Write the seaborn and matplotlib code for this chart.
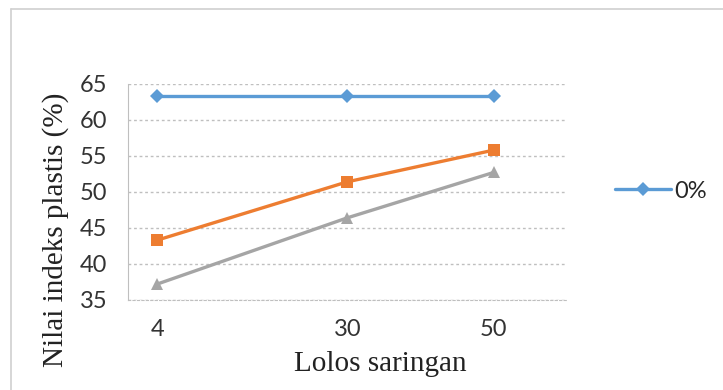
import pandas as pd
import seaborn as sns
import matplotlib.pyplot as plt
from matplotlib.lines import Line2D

# data
lolos = [4, 30, 50]
series_names = ['0%', '2%', '4%']
pi_0 = [63.3, 63.3, 63.3]
pi_2 = [43.3, 51.4, 55.8]
pi_4 = [37.2, 46.4, 52.7]
y_ticks = [35, 40, 45, 50, 55, 60, 65]

colors = {'0%': '#5B9BD5', '2%': '#ED7D31', '4%': '#A5A5A5'}
markers = {'0%': 'D', '2%': 's', '4%': '^'}
msizes = {'0%': 7.5, '2%': 8, '4%': 9}

df = pd.DataFrame({
    'lolos': lolos * 3,
    'pi': pi_0 + pi_2 + pi_4,
    'kadar': [n for n in series_names for _ in lolos],
})

sns.set_style('white')
plt.rcParams['font.family'] = ['Lato', 'DejaVu Sans']

fig = plt.figure(figsize=(7.23, 3.9), dpi=100)
ax = fig.add_axes([0.177, 0.231, 0.607, 0.554])

for name in series_names:
    sub = df[df['kadar'] == name]
    sns.lineplot(data=sub, x='lolos', y='pi', ax=ax, color=colors[name],
                 marker=markers[name], markersize=msizes[name],
                 markeredgewidth=0, linewidth=2.4, label=name, legend=False)

ax.set_xlim(0, 60)
ax.set_ylim(35, 65)
ax.set_xticks(lolos)
ax.set_xticklabels([str(v) for v in lolos])
ax.set_yticks(y_ticks)
ax.tick_params(axis='both', length=0, labelsize=17, colors='#333333')
ax.tick_params(axis='y', pad=15)
ax.tick_params(axis='x', pad=14)

ax.yaxis.grid(True, linestyle=(0, (2, 2)), color='#BFBFBF', linewidth=1)
ax.xaxis.grid(False)
for s in ['top', 'right']:
    ax.spines[s].set_visible(False)
ax.spines['left'].set_color('#BFBFBF')
ax.spines['bottom'].set_color('#BFBFBF')
ax.spines['bottom'].set_linestyle((0, (2, 2)))

ax.set_xlabel('Lolos saringan', family='Liberation Serif', fontsize=21,
              color='#222222')
ax.xaxis.set_label_coords(0.576, -0.235)
ax.set_ylabel('Nilai indeks plastis (%)', family='Liberation Serif', fontsize=21,
              color='#222222')
ax.yaxis.set_label_coords(-0.135, 0.325)

handle = Line2D([], [], color=colors['0%'], marker='D', markersize=7.5,
                markeredgewidth=0, linewidth=2.4)
fig.legend([handle], ['0%'], loc='center left', bbox_to_anchor=(0.851, 0.51),
           frameon=False, fontsize=17, handlelength=2.35, handletextpad=0.15,
           borderpad=0, borderaxespad=0)

# outer chart border
fig.add_artist(Line2D([0.0152, 0.0152], [0.0, 0.977], transform=fig.transFigure,
                      color='#D0D0D0', linewidth=1.2))
fig.add_artist(Line2D([0.0152, 1.0], [0.977, 0.977], transform=fig.transFigure,
                      color='#D0D0D0', linewidth=1.2))

fig.savefig('out.png', dpi=100)
